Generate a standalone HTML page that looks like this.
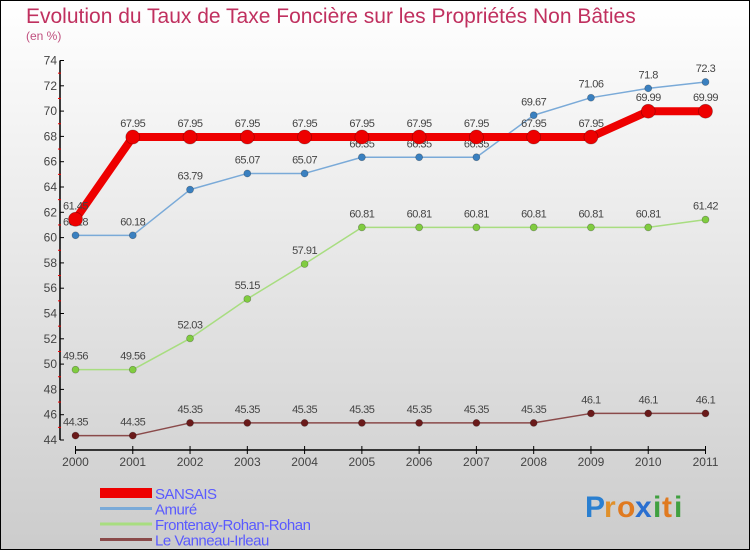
<!DOCTYPE html>
<html><head><meta charset="utf-8"><style>
body{margin:0;}
#c{width:750px;height:550px;position:relative;overflow:hidden;font-family:"Liberation Sans",sans-serif;}
svg text{font-family:"Liberation Sans",sans-serif;}
</style></head><body>
<div id="c">
<svg id="s" width="750" height="550" xmlns="http://www.w3.org/2000/svg">
<defs><linearGradient id="bg" x1="0" y1="0" x2="0" y2="1"><stop offset="0" stop-color="#ffffff"/><stop offset="1" stop-color="#cccccc"/></linearGradient></defs>
<rect x="0.5" y="0.5" width="749" height="549" fill="url(#bg)" stroke="#000"/>
<text x="26" y="23" font-size="21" fill="#c0305f">Evolution du Taux de Taxe Foncière sur les Propriétés Non Bâties</text>
<text x="26" y="40" font-size="12" fill="#c0507f">(en %)</text>
<g id="axes"></g><g id="series"></g><g id="legend"></g>
<g font-size="30" font-weight="bold">
<text x="585" y="517" fill="#2a7fd0">P</text><text x="604" y="517" fill="#e0902a">r</text><text x="617" y="517" fill="#e07a20">o</text><text x="635" y="517" fill="#2a6fd0">x</text><text x="653" y="517" fill="#40a040">i</text><text x="662" y="517" fill="#e07a20">t</text><text x="674" y="517" fill="#40a040">i</text>
</g>
</svg>
</div>
<script>
const years=["2000","2001","2002","2003","2004","2005","2006","2007","2008","2009","2010","2011"];
const sansais=[61.45,67.95,67.95,67.95,67.95,67.95,67.95,67.95,67.95,67.95,69.99,69.99];
const amure=[60.18,60.18,63.79,65.07,65.07,66.35,66.35,66.35,69.67,71.06,71.8,72.3];
const frontenay=[49.56,49.56,52.03,55.15,57.91,60.81,60.81,60.81,60.81,60.81,60.81,61.42];
const vanneau=[44.35,44.35,45.35,45.35,45.35,45.35,45.35,45.35,45.35,46.1,46.1,46.1];
const yTicks=[44,46,48,50,52,54,56,58,60,62,64,66,68,70,72,74];
const seriesNames=["SANSAIS","Amuré","Frontenay-Rohan-Rohan","Le Vanneau-Irleau"];
const NS="http://www.w3.org/2000/svg";
function X(i){return 75.5+i*(705.5-75.5)/(years.length-1);}
function Y(v){return 440-(v-44)*(440-60.5)/30;}
function el(t,a,p){const e=document.createElementNS(NS,t);for(const k in a)e.setAttribute(k,a[k]);p.appendChild(e);return e;}
const ax=document.getElementById('axes');
let l=el('line',{x1:60,y1:Y(74),x2:60,y2:Y(44),stroke:'#000','stroke-width':1.5},ax);


l=el('line',{x1:X(0),y1:450,x2:X(11),y2:450,stroke:'#000','stroke-width':1.5},ax);


yTicks.forEach(v=>{
 el('line',{x1:60,y1:Y(v),x2:64,y2:Y(v),stroke:'#000'},ax);
 if(v<74) el('line',{x1:58,y1:Y(v+1),x2:61,y2:Y(v+1),stroke:'#e00'},ax);
 const t=el('text',{x:57,y:Y(v)+4,'font-size':12,fill:'#444','text-anchor':'end'},ax);t.textContent=v;
 
 
});
years.forEach((y,i)=>{
 el('line',{x1:X(i),y1:446,x2:X(i),y2:454,stroke:'#000'},ax);
 const t=el('text',{x:X(i),y:466,'font-size':12,fill:'#444','text-anchor':'middle'},ax);t.textContent=y;
 
 
});
const sg=document.getElementById('series');
function draw(vals,color,w,r,dot,name,fs){
 const g=el('g',{},sg);
 
 
 el('polyline',{points:vals.map((v,i)=>X(i)+','+Y(v)).join(' '),fill:'none',stroke:color,'stroke-width':w,'stroke-linejoin':'round'},g);
 vals.forEach((v,i)=>{
  const c=el('circle',{cx:X(i),cy:Y(v),r:r,fill:dot,stroke:'rgba(0,0,0,0.3)','stroke-width':0.7},g);
  
  
  const t=el('text',{x:X(i),y:Y(v)-10,'font-size':11,fill:'#444','text-anchor':'middle','letter-spacing':'-0.5'},g);
  t.textContent=v;
 });
}
draw(vanneau,'#8a4a4a',1.5,3.5,'#6a1a1a','series-le-vanneau');
draw(frontenay,'#a8dd80',1.5,3.5,'#80cc40','series-frontenay');
draw(amure,'#7aaad8',1.5,3.5,'#3a80c0','series-amure');
draw(sansais,'#ee0000',8,7,'#ee0000','series-sansais');
const lg=document.getElementById('legend');
const cols=['#ee0000','#7aaad8','#a8dd80','#8a4a4a'];
seriesNames.forEach((n,i)=>{
 const y=493+i*15.5;
 const g=el('g',{},lg);
 
 
 el('rect',{x:100,y:i==0?y-5:y-1.5,width:52,height:i==0?10:3,fill:cols[i]},g);
 const t=el('text',{x:155,y:y+6,'font-size':15,fill:'#5a5aff','letter-spacing':'-0.5'},g);t.textContent=n;
});
</script>
</body></html>
